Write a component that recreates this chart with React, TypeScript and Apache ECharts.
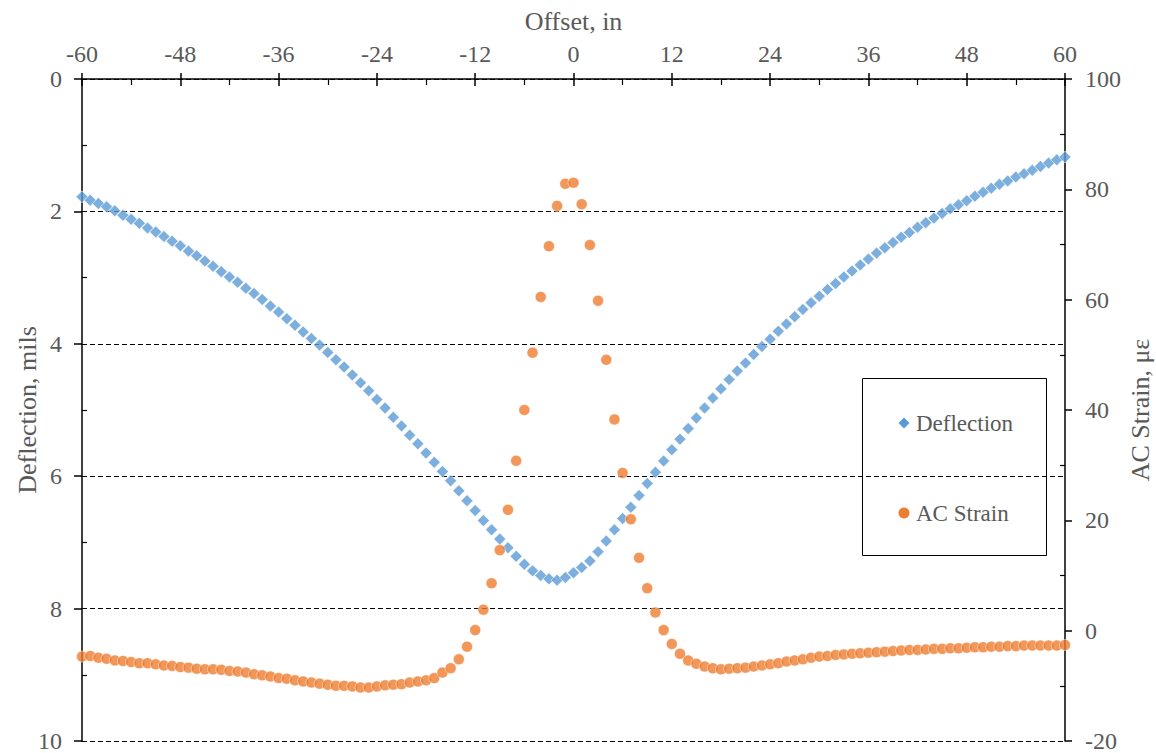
import React, { useEffect, useRef } from "react";
import * as echarts from "echarts";

const offsets = [
  -60, -59, -58, -57, -56, -55, -54, -53, -52, -51,
  -50, -49, -48, -47, -46, -45, -44, -43, -42, -41,
  -40, -39, -38, -37, -36, -35, -34, -33, -32, -31,
  -30, -29, -28, -27, -26, -25, -24, -23, -22, -21,
  -20, -19, -18, -17, -16, -15, -14, -13, -12, -11,
  -10, -9, -8, -7, -6, -5, -4, -3, -2, -1,
  0, 1, 2, 3, 4, 5, 6, 7, 8, 9,
  10, 11, 12, 13, 14, 15, 16, 17, 18, 19,
  20, 21, 22, 23, 24, 25, 26, 27, 28, 29,
  30, 31, 32, 33, 34, 35, 36, 37, 38, 39,
  40, 41, 42, 43, 44, 45, 46, 47, 48, 49,
  50, 51, 52, 53, 54, 55, 56, 57, 58, 59,
  60,
];

const deflection = [
  1.78, 1.83, 1.88, 1.93, 1.99, 2.06, 2.12, 2.18, 2.25, 2.31,
  2.38, 2.45, 2.52, 2.6, 2.67, 2.75, 2.83, 2.91, 2.99, 3.07,
  3.16, 3.24, 3.33, 3.43, 3.52, 3.62, 3.72, 3.82, 3.92, 4.02,
  4.13, 4.24, 4.35, 4.47, 4.59, 4.71, 4.84, 4.97, 5.11, 5.24,
  5.38, 5.51, 5.65, 5.79, 5.93, 6.07, 6.22, 6.37, 6.52, 6.67,
  6.81, 6.95, 7.08, 7.21, 7.33, 7.43, 7.5, 7.55, 7.57, 7.53,
  7.46, 7.38, 7.28, 7.14, 6.98, 6.81, 6.64, 6.47, 6.29, 6.11,
  5.94, 5.77, 5.6, 5.44, 5.28, 5.12, 4.97, 4.82, 4.68, 4.54,
  4.41, 4.29, 4.16, 4.04, 3.93, 3.81, 3.7, 3.59, 3.48, 3.38,
  3.28, 3.18, 3.09, 2.99, 2.9, 2.81, 2.72, 2.63, 2.55, 2.47,
  2.39, 2.32, 2.24, 2.17, 2.1, 2.03, 1.96, 1.9, 1.84, 1.77,
  1.71, 1.65, 1.59, 1.54, 1.48, 1.43, 1.38, 1.32, 1.27, 1.22,
  1.18,
];

const acStrain = [
  -4.7, -4.6, -4.9, -5.1, -5.4, -5.5, -5.7, -5.9, -5.9, -6.1,
  -6.3, -6.4, -6.6, -6.7, -6.9, -7.0, -7.0, -7.1, -7.3, -7.4,
  -7.6, -7.9, -8.1, -8.3, -8.6, -8.7, -9.0, -9.2, -9.4, -9.6,
  -9.8, -10.0, -10.0, -10.1, -10.3, -10.3, -10.1, -9.9, -9.8, -9.7,
  -9.4, -9.2, -9.0, -8.6, -7.6, -6.8, -5.2, -2.9, 0.1, 3.8,
  8.6, 14.6, 21.9, 30.8, 40.0, 50.4, 60.5, 69.7, 77.0, 81.0,
  81.2, 77.3, 69.9, 59.8, 49.1, 38.3, 28.6, 20.2, 13.2, 7.7,
  3.3, 0.1, -2.4, -4.2, -5.4, -6.0, -6.5, -6.8, -7.0, -6.9,
  -6.8, -6.7, -6.5, -6.3, -6.1, -5.9, -5.6, -5.4, -5.2, -4.9,
  -4.7, -4.6, -4.4, -4.3, -4.2, -4.1, -4.0, -3.9, -3.8, -3.7,
  -3.6, -3.5, -3.5, -3.4, -3.3, -3.3, -3.2, -3.2, -3.1, -3.0,
  -3.0, -2.9, -2.9, -2.8, -2.8, -2.7, -2.7, -2.7, -2.7, -2.7,
  -2.6,
];

const FONT = "Liberation Serif";
const GRAY = "#595959";
const BLUE = "#5B9BD5";
const ORANGE = "#ED7D31";

export default function App() {
  const ref = useRef<HTMLDivElement>(null);

  useEffect(() => {
    if (!ref.current) return;
    const chart = echarts.init(ref.current, null, { renderer: "svg" });
    const axisLine = { show: true, onZero: false, lineStyle: { color: "#000", width: 1.5 } };
    const labelStyle = { color: GRAY, fontFamily: FONT, fontSize: 24 };
    const nameStyle = { color: GRAY, fontFamily: FONT, fontSize: 26 };
    const legendText = {
      fill: GRAY,
      font: "23px 'Liberation Serif', serif",
      fontFamily: FONT,
      fontSize: 23,
      verticalAlign: "middle",
      align: "left",
    };

    chart.setOption({
      animation: false,
      backgroundColor: "#fff",
      textStyle: { fontFamily: FONT },
      grid: {
        left: 82,
        right: 91,
        top: 79,
        bottom: 12,
        containLabel: false,
        outerBoundsMode: "none",
      },
      graphic: [
        {
          type: "group",
          z: 10,
          children: [
            {
              type: "rect",
              shape: { x: 862.5, y: 378.5, width: 184, height: 177 },
              style: { fill: "#fff", stroke: "#000", lineWidth: 1 },
            },
            {
              type: "polygon",
              shape: { points: [[904, 417.5], [909.5, 423], [904, 428.5], [898.5, 423]] },
              style: { fill: BLUE },
            },
            {
              type: "text",
              x: 916,
              y: 423,
              style: { ...legendText, text: "Deflection" },
            },
            {
              type: "circle",
              shape: { cx: 904, cy: 513, r: 5.5 },
              style: { fill: ORANGE },
            },
            {
              type: "text",
              x: 916,
              y: 513,
              style: { ...legendText, text: "AC Strain" },
            },
          ],
        },
      ],
      xAxis: [
        {
          type: "value",
          position: "top",
          min: -60,
          max: 60,
          interval: 12,
          name: "Offset, in",
          nameLocation: "middle",
          nameGap: 45,
          nameMoveOverlap: false,
          nameTextStyle: nameStyle,
          axisLine,
          axisTick: { show: true, inside: false, length: 6, lineStyle: { color: "#000", width: 1.5 } },
          axisLabel: { ...labelStyle, margin: 13 },
          splitLine: { show: false },
        },
        {
          type: "value",
          position: "top",
          min: -60,
          max: 60,
          interval: 12,
          axisLine: { show: false, onZero: false },
          axisTick: { show: true, inside: true, length: 7, lineStyle: { color: "#000", width: 1.5 } },
          minorTick: { show: true, splitNumber: 2, length: 6, lineStyle: { color: "#000", width: 1.2 } },
          axisLabel: { show: false },
          splitLine: { show: false },
        },
      ],
      yAxis: [
        {
          type: "value",
          position: "left",
          inverse: true,
          min: 0,
          max: 10,
          interval: 2,
          name: "Deflection, mils",
          nameLocation: "middle",
          nameGap: 42,
          nameRotate: 90,
          nameMoveOverlap: false,
          nameTextStyle: nameStyle,
          axisLine,
          axisTick: { show: true, inside: false, length: 8, lineStyle: { color: "#000", width: 1.5 } },
          axisLabel: { ...labelStyle, margin: 20 },
          splitLine: { show: true, lineStyle: { color: "#000", width: 1, type: [5, 3] } },
        },
        {
          type: "value",
          position: "right",
          min: -20,
          max: 100,
          interval: 20,
          name: "AC Strain, με",
          nameLocation: "middle",
          nameGap: 62,
          nameRotate: 90,
          nameMoveOverlap: false,
          nameTextStyle: nameStyle,
          axisLine,
          axisTick: { show: true, inside: false, length: 7, lineStyle: { color: "#000", width: 1.5 } },
          axisLabel: { ...labelStyle, margin: 20 },
          splitLine: { show: false },
        },
        {
          type: "value",
          position: "left",
          inverse: true,
          min: 0,
          max: 10,
          interval: 2,
          axisLine: { show: false, onZero: false },
          axisTick: { show: false, inside: true },
          minorTick: { show: true, splitNumber: 2, length: 5, lineStyle: { color: "#000", width: 1.2 } },
          axisLabel: { show: false },
          splitLine: { show: false },
        },
        {
          type: "value",
          position: "right",
          min: -20,
          max: 100,
          interval: 20,
          axisLine: { show: false, onZero: false },
          axisTick: { show: false, inside: true },
          minorTick: { show: true, splitNumber: 2, length: 5, lineStyle: { color: "#000", width: 1.2 } },
          axisLabel: { show: false },
          splitLine: { show: false },
        },
      ],
      series: [
        {
          name: "Deflection",
          type: "scatter",
          xAxisIndex: 0,
          yAxisIndex: 0,
          symbol: "diamond",
          symbolSize: 12,
          itemStyle: { color: BLUE, borderColor: "#fff", borderWidth: 0.7 },
          data: offsets.map((o, i) => [o, deflection[i]]),
          z: 2,
        },
        {
          name: "AC Strain",
          type: "scatter",
          xAxisIndex: 0,
          yAxisIndex: 1,
          symbol: "circle",
          symbolSize: 11,
          itemStyle: { color: ORANGE, borderColor: "#fff", borderWidth: 0.6 },
          data: offsets.map((o, i) => [o, acStrain[i]]),
          z: 3,
        },
      ],
    });
    return () => chart.dispose();
  }, []);

  return (
    <div
      ref={ref}
      style={{ position: "absolute", left: 0, top: 0, width: 1156, height: 753 }}
    />
  );
}
